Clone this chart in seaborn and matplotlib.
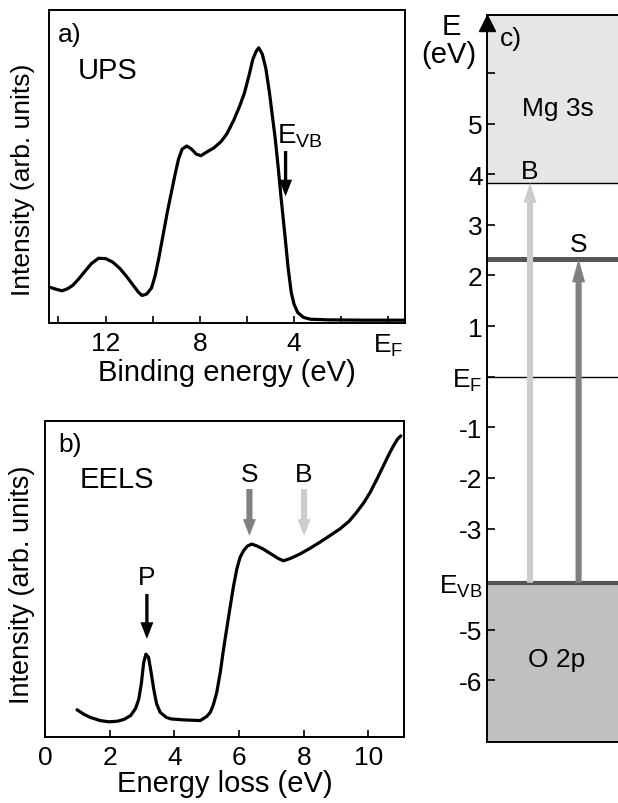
import numpy as np
import pandas as pd
import seaborn as sns
import matplotlib.pyplot as plt

# UPS spectrum (panel a): binding energy (eV) vs intensity (arb.)
ups_be = [14.4, 14.1, 13.85, 13.6, 13.4, 13.15, 12.9, 12.6, 12.3, 12.0, 11.7, 11.4, 11.1,
          10.8, 10.6, 10.45, 10.25, 10.05, 9.9, 9.75, 9.55, 9.38, 9.2, 9.05, 8.9, 8.75,
          8.55, 8.35, 8.15, 7.95, 7.7, 7.4, 7.1, 6.85, 6.55, 6.3, 6.1, 5.9, 5.75, 5.6,
          5.5, 5.35, 5.2, 5.05, 4.95, 4.8, 4.68, 4.55, 4.4, 4.25, 4.12, 4.0, 3.85, 3.6,
          3.3, 2.5, 1.0, -0.7]
ups_int = [0.115, 0.108, 0.103, 0.110, 0.120, 0.140, 0.163, 0.190, 0.207, 0.206, 0.195,
           0.175, 0.148, 0.118, 0.098, 0.088, 0.093, 0.112, 0.150, 0.204, 0.285, 0.354,
           0.420, 0.475, 0.525, 0.556, 0.566, 0.556, 0.540, 0.535, 0.547, 0.560, 0.580,
           0.605, 0.650, 0.695, 0.737, 0.795, 0.843, 0.870, 0.880, 0.860, 0.815, 0.740,
           0.680, 0.590, 0.503, 0.400, 0.290, 0.175, 0.098, 0.060, 0.034, 0.018, 0.012,
           0.010, 0.009, 0.009]

# EELS spectrum (panel b): energy loss (eV) vs intensity (arb.)
eels_e = [0.99, 1.2, 1.4, 1.7, 1.97, 2.25, 2.45, 2.65, 2.8, 2.9, 2.98, 3.05, 3.12, 3.2,
          3.28, 3.36, 3.45, 3.56, 3.75, 3.9, 4.3, 4.8, 5.0, 5.11, 5.2, 5.31, 5.42, 5.52,
          5.63, 5.73, 5.83, 5.93, 6.03, 6.14, 6.25, 6.39, 6.55, 6.75, 7.0, 7.2, 7.37,
          7.6, 7.89, 8.2, 8.5, 8.8, 9.12, 9.4, 9.63, 9.85, 10.05, 10.25, 10.46, 10.65,
          10.77, 10.9, 11.0]
eels_int = [0.086, 0.072, 0.062, 0.052, 0.048, 0.050, 0.056, 0.068, 0.090, 0.120, 0.170,
            0.235, 0.262, 0.252, 0.205, 0.152, 0.105, 0.078, 0.062, 0.057, 0.054, 0.052,
            0.065, 0.078, 0.100, 0.141, 0.205, 0.278, 0.350, 0.415, 0.478, 0.531, 0.568,
            0.589, 0.603, 0.610, 0.604, 0.594, 0.578, 0.565, 0.557, 0.565, 0.579, 0.597,
            0.616, 0.636, 0.658, 0.682, 0.710, 0.740, 0.773, 0.813, 0.857, 0.897, 0.920,
            0.942, 0.952]

# Arrow positions (eV)
e_vb_ups = 4.36
eels_peaks = {"P": 3.15, "S": 6.32, "B": 8.01}

# Energy level diagram (panel c), eV relative to E_F
level_b = 3.83      # Mg 3s band edge
level_s = 2.33      # surface state
level_vb = -4.07    # valence band max
c_ymin, c_ymax = -7.21, 7.15

sns.set_style("ticks")
plt.rcParams["font.family"] = ["Liberation Sans", "DejaVu Sans"]
plt.rcParams["mathtext.fontset"] = "custom"
plt.rcParams["mathtext.rm"] = "Liberation Sans"
plt.rcParams["mathtext.it"] = "Liberation Sans"
for key in ("text.color", "axes.labelcolor", "xtick.color", "ytick.color", "axes.edgecolor"):
    plt.rcParams[key] = "black"

fig = plt.figure(figsize=(6.18, 8.04), dpi=100)
ax_a = fig.add_axes([0.0793, 0.597, 0.5757, 0.389])
ax_b = fig.add_axes([0.0728, 0.0821, 0.581, 0.3934])
ax_c = fig.add_axes([0.7875, 0.0762, 0.2125, 0.9043])

gray_s = "#808080"
gray_b = "#cccccc"
dark = "#555555"
fs_tick, fs_lab = 19, 21


def arrow(ax, x, y_tail, y_tip, color, tail=0.12, head_w=0.47, head_l=0.6, ms=20):
    ax.annotate("", xy=(x, y_tip), xytext=(x, y_tail),
                arrowprops=dict(arrowstyle=f"simple,head_length={head_l},head_width={head_w},tail_width={tail}",
                                fc=color, ec="none", lw=0, shrinkA=0, shrinkB=0,
                                mutation_scale=ms))


for ax in (ax_a, ax_b):
    for sp in ax.spines.values():
        sp.set_visible(True)
        sp.set_linewidth(1.4)
    ax.tick_params(axis="x", direction="in", length=5, width=1.2, pad=6, labelsize=fs_tick)

# ---- panel a: UPS
df_a = pd.DataFrame({"be": ups_be, "int": ups_int})
sns.lineplot(data=df_a, x="be", y="int", color="black", lw=2.3, ax=ax_a)
ax_a.set_ylim(0, 1)
ax_a.set_yticks([])
ax_a.set_ylabel("")
ax_a.set_xlim(14.4, -0.7)
ax_a.set_xticks([14, 12, 10, 8, 6, 4, 2, 0])
ax_a.set_xticklabels(["", "12", "", "8", "", "4", "", r"$\mathrm{E_F}$"])
ax_a.set_xlabel("Binding energy (eV)", fontsize=fs_lab, labelpad=0)
fig.text(23 / 618, 1 - 180 / 804, "Intensity (arb. units)", fontsize=19,
         rotation=90, ha="center", va="center")
ax_a.text(0.025, 0.923, "a)", transform=ax_a.transAxes, fontsize=fs_tick, va="center")
ax_a.text(0.081, 0.808, "UPS", transform=ax_a.transAxes, fontsize=fs_lab, va="center")
ax_a.text(4.72, 0.578, r"$\mathrm{E_{VB}}$", fontsize=20, va="baseline")
arrow(ax_a, e_vb_ups, 0.55, 0.405, "black")

# ---- panel b: EELS
df_b = pd.DataFrame({"e": eels_e, "int": eels_int})
sns.lineplot(data=df_b, x="e", y="int", color="black", lw=2.3, ax=ax_b)
ax_b.set_ylim(0, 1)
ax_b.set_yticks([])
ax_b.set_ylabel("")
ax_b.set_xlim(0, 11.1)
ax_b.set_xticks([0, 2, 4, 6, 8, 10])
ax_b.set_xlabel("Energy loss (eV)", fontsize=fs_lab, labelpad=0)
fig.text(22 / 618, 1 - 585 / 804, "Intensity (arb. units)", fontsize=19.5,
         rotation=90, ha="center", va="center")
ax_b.text(0.036, 0.926, "b)", transform=ax_b.transAxes, fontsize=fs_tick, va="center")
ax_b.text(0.0975, 0.816, "EELS", transform=ax_b.transAxes, fontsize=fs_lab, va="center")
arrow(ax_b, eels_peaks["P"], 0.452, 0.31, "black")
ax_b.text(eels_peaks["P"], 0.506, "P", fontsize=fs_tick, ha="center", va="center")
for lab, col in (("S", gray_s), ("B", gray_b)):
    arrow(ax_b, eels_peaks[lab], 0.784, 0.636, col, tail=0.22)
    ax_b.text(eels_peaks[lab], 0.831, lab, fontsize=fs_tick, ha="center", va="center")

# ---- panel c: energy levels
ax_c.set_xlim(0, 1)
ax_c.set_ylim(c_ymin, c_ymax)
ax_c.axhspan(level_b, c_ymax, color="#e6e6e6", lw=0, zorder=0)
ax_c.axhspan(c_ymin, level_vb, color="#c0c0c0", lw=0, zorder=0)
ax_c.axhline(level_b, color="black", lw=1.0)
ax_c.axhline(0, color="black", lw=1.0)
ax_c.axhline(level_s, color=dark, lw=3.6)
ax_c.axhline(level_vb, color=dark, lw=3.0)
arrow(ax_c, 0.33, level_vb, level_b, gray_b, tail=0.22, head_w=0.47, head_l=0.72)
arrow(ax_c, 0.70, level_vb, level_s, gray_s, tail=0.22, head_w=0.47, head_l=0.85)
ax_c.text(0.33, 4.06, "B", fontsize=fs_tick, ha="center", va="center")
ax_c.text(0.70, 2.62, "S", fontsize=fs_tick, ha="center", va="center")
ax_c.text(0.543, 5.31, "Mg 3s", fontsize=19, ha="center", va="center")
ax_c.text(0.535, -5.58, "O 2p", fontsize=19, ha="center", va="center")
ax_c.text(0.10, 6.69, "c)", fontsize=fs_tick, va="center")

sns.despine(ax=ax_c, right=True, top=False)
for sp in ("left", "top", "bottom"):
    ax_c.spines[sp].set_linewidth(1.4)
ax_c.set_xticks([])
ax_c.set_yticks([6, 5, 4, 3, 2, 1, 0, -1, -2, -3, level_vb, -5, -6])
ax_c.set_yticklabels(["", "5", "4", "3", "2", "1", r"$\mathrm{E_F}$", "-1", "-2", "-3",
                      r"$\mathrm{E_{VB}}$", "-5", "-6"])
ax_c.tick_params(axis="y", direction="in", length=6, width=1.2, pad=3, labelsize=fs_tick)
ax_c.plot([0], [6.98], marker="^", color="black", ms=11, clip_on=False,
          transform=ax_c.get_yaxis_transform(), zorder=5)
fig.text(0.730, 0.967, "E", fontsize=fs_lab, ha="center", va="center")
fig.text(0.727, 0.932, "(eV)", fontsize=fs_lab, ha="center", va="center")

fig.savefig("out.png", dpi=100)
